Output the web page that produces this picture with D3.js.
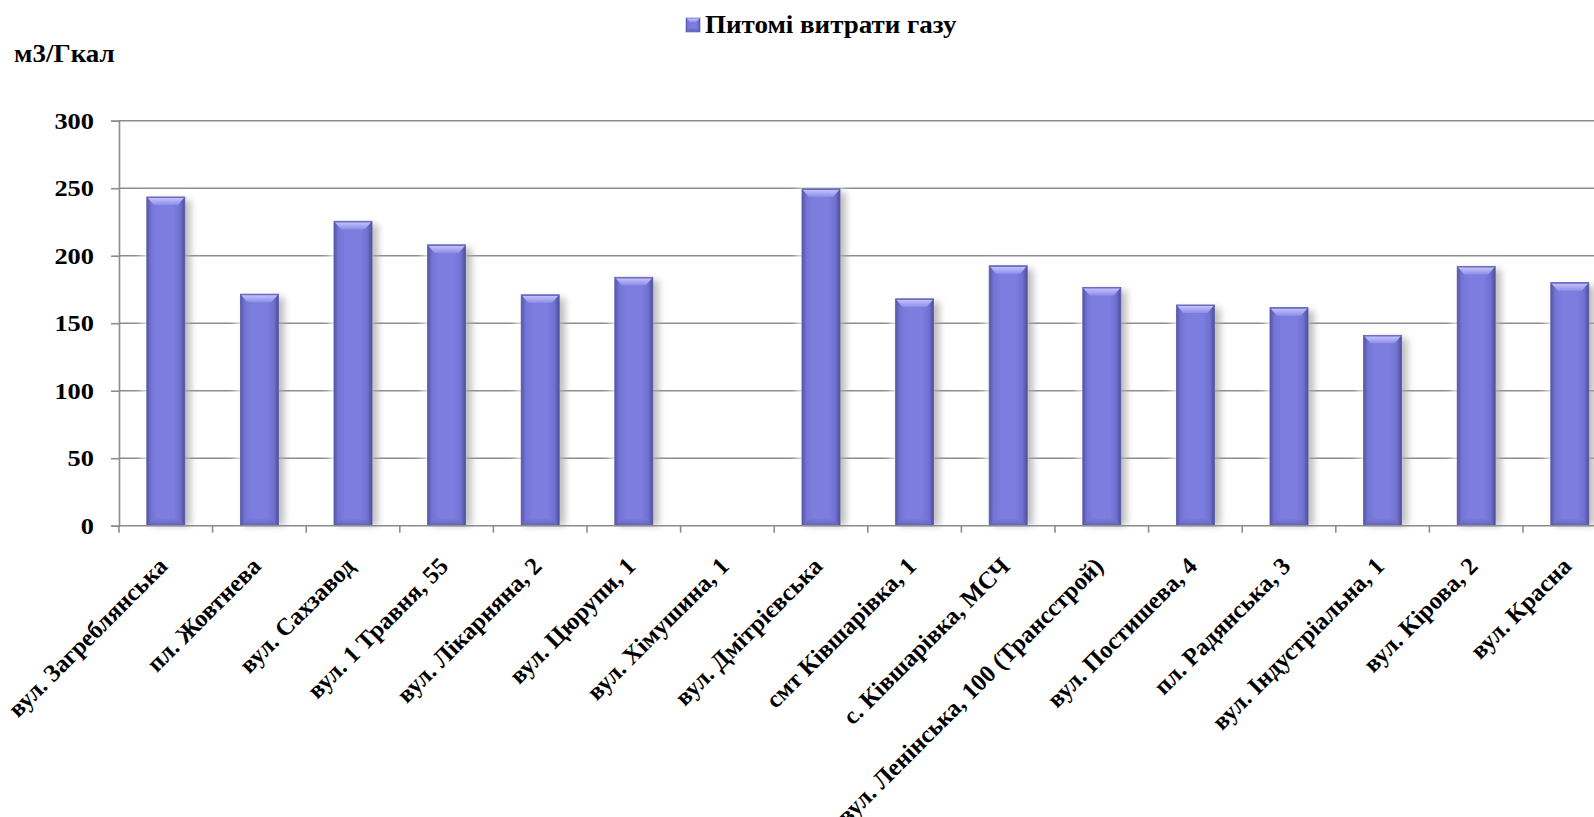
<!DOCTYPE html>
<html>
<head>
<meta charset="utf-8">
<script src="https://cdn.jsdelivr.net/npm/d3@7"></script>
<style>
  html, body { margin: 0; padding: 0; background: #fff; }
  svg { display: block; }
  text { font-family: "Liberation Serif", "Times New Roman", serif; font-weight: bold; fill: #000; }
</style>
</head>
<body>
<svg id="chart" width="1594" height="817"></svg>
<script>
const categories = [
  "вул. Загреблянська", "пл. Жовтнева", "вул. Сахзавод", "вул. 1 Травня, 55",
  "вул. Лікарняна, 2", "вул. Цюрупи, 1", "вул. Хімушина, 1", "вул. Дмітрієвська",
  "смт Ківшарівка, 1", "с. Ківшарівка, МСЧ", "вул. Ленінська, 100 (Трансстрой)",
  "вул. Постишева, 4", "пл. Радянська, 3", "вул. Індустріальна, 1", "вул. Кірова, 2", "вул. Красна"
];
const values = [243.5, 171.5, 225.5, 208, 171, 184, 0, 249.5, 168, 192.5, 176.5, 163.5, 161.5, 141, 192, 180];
const yTicks = [0, 50, 100, 150, 200, 250, 300];
const seriesName = "Питомі витрати газу";
const unitLabel = "м3/Гкал";

const svg = d3.select("#chart");
const plotLeft = 119, plotTop = 120.7, plotBottom = 525.7, step = 93.6;

const x = d3.scaleBand().domain(categories)
  .range([plotLeft, plotLeft + categories.length * step])
  .paddingInner(0.594).paddingOuter(0.297);
const y = d3.scaleLinear().domain([0, 300]).range([plotBottom, plotTop]);

const defs = svg.append("defs");
const gH = defs.append("linearGradient").attr("id", "barH").attr("x1", 0).attr("x2", 1).attr("y1", 0).attr("y2", 0);
[[0, "#5656a6"], [0.12, "#7474d6"], [0.3, "#7d7de0"], [0.7, "#7d7de0"], [0.88, "#7070d0"], [1, "#4e4e9a"]]
  .forEach(([o, c]) => gH.append("stop").attr("offset", o).attr("stop-color", c));
const gT = defs.append("linearGradient").attr("id", "barTop").attr("x1", 0).attr("x2", 0).attr("y1", 0).attr("y2", 1);
[[0, "#c6c6fb"], [1, "#8e8eea"]].forEach(([o, c]) => gT.append("stop").attr("offset", o).attr("stop-color", c));
const gB = defs.append("linearGradient").attr("id", "barBot").attr("x1", 0).attr("x2", 0).attr("y1", 0).attr("y2", 1);
[[0, "#7a7ad8"], [1, "#6262b8"]].forEach(([o, c]) => gB.append("stop").attr("offset", o).attr("stop-color", c));
const blur = defs.append("filter").attr("id", "shadow").attr("x", "-50%").attr("y", "-10%").attr("width", "200%").attr("height", "130%");
blur.append("feGaussianBlur").attr("stdDeviation", 3.5);
const glow = defs.append("filter").attr("id", "glow").attr("x", "-50%").attr("y", "-10%").attr("width", "200%").attr("height", "130%");
glow.append("feGaussianBlur").attr("stdDeviation", 4);

// gridlines
svg.append("g").selectAll("line").data(yTicks.filter(d => d > 0)).join("line")
  .attr("x1", plotLeft).attr("x2", 1594)
  .attr("y1", d => y(d)).attr("y2", d => y(d))
  .attr("stroke", "#8c8c8c").attr("stroke-width", 1.6);

// y axis
const yAxis = svg.append("g").attr("transform", `translate(${plotLeft},0)`)
  .call(d3.axisLeft(y).tickValues(yTicks).tickSize(8).tickPadding(0));
yAxis.select(".domain").attr("stroke", "#8c8c8c").attr("stroke-width", 1.6);
yAxis.selectAll(".tick line").attr("stroke", "#8c8c8c").attr("stroke-width", 1.6);
yAxis.selectAll(".tick text").attr("x", null)
  .attr("transform", "translate(-25,0) scale(1.1,1)")
  .attr("font-size", 24).attr("font-family", "Liberation Serif, serif")
  .attr("font-weight", "bold").attr("fill", "#000");

// bars
const bw = x.bandwidth();
const bars = svg.append("g").selectAll("g").data(values.map((v, i) => ({ c: categories[i], v })).filter(d => d.v > 0)).join("g");
bars.append("rect").attr("x", d => x(d.c) - 4).attr("y", d => y(d.v) - 2)
  .attr("width", bw + 8).attr("height", d => plotBottom - y(d.v) + 2)
  .attr("fill", "#fff").attr("opacity", 0.9).attr("filter", "url(#glow)");
bars.append("rect").attr("x", d => x(d.c) + 4).attr("y", d => y(d.v) + 3)
  .attr("width", bw + 2).attr("height", d => plotBottom - y(d.v) - 3)
  .attr("fill", "#000").attr("opacity", 0.25).attr("filter", "url(#shadow)");
bars.append("rect").attr("x", d => x(d.c)).attr("y", d => y(d.v))
  .attr("width", bw).attr("height", d => plotBottom - y(d.v))
  .attr("fill", "url(#barH)").attr("stroke", "#5a5aa8").attr("stroke-width", 0.8);
bars.append("polygon").attr("points", d => {
  const x0 = x(d.c), t = y(d.v), h = 8, ins = 7;
  return [[x0 + 0.5, t + 0.5], [x0 + bw - 0.5, t + 0.5], [x0 + bw - ins, t + h], [x0 + ins, t + h]].join(" ");
}).attr("fill", "url(#barTop)");
bars.append("line").attr("x1", d => x(d.c)).attr("x2", d => x(d.c) + bw)
  .attr("y1", d => y(d.v) + 0.5).attr("y2", d => y(d.v) + 0.5).attr("stroke", "#6a6ac4").attr("stroke-width", 1.2);
bars.append("polygon").attr("points", d => {
  const x0 = x(d.c), b = plotBottom, h = 7, ins = 7;
  return [[x0 + ins, b - h], [x0 + bw - ins, b - h], [x0 + bw - 0.5, b - 0.5], [x0 + 0.5, b - 0.5]].join(" ");
}).attr("fill", "url(#barBot)").attr("opacity", 0.8);

// x axis
svg.append("line").attr("x1", plotLeft).attr("x2", 1594).attr("y1", plotBottom).attr("y2", plotBottom)
  .attr("stroke", "#8c8c8c").attr("stroke-width", 1.6);
const bounds = d3.range(categories.length + 1).map(i => x.range()[0] + i * x.step());
svg.append("g").selectAll("line").data(bounds).join("line")
  .attr("x1", d => d).attr("x2", d => d).attr("y1", plotBottom).attr("y2", plotBottom + 7)
  .attr("stroke", "#8c8c8c").attr("stroke-width", 1.6);

// x labels
svg.append("g").selectAll("text").data(categories).join("text")
  .attr("transform", d => `translate(${x(d) + bw / 2 + 3},${plotBottom + 42}) rotate(-45)`)
  .attr("text-anchor", "end").attr("font-size", 24.5).text(d => d);

// unit label
svg.append("text").attr("transform", "translate(14,62) scale(1.04,1)").attr("font-size", 26).text(unitLabel);

// legend
const lg = svg.append("g").attr("transform", "translate(686,18)");
lg.append("rect").attr("width", 14).attr("height", 14).attr("fill", "url(#barH)").attr("stroke", "#5a5aa8").attr("stroke-width", 0.6);
lg.append("polygon").attr("points", "0.5,0.5 13.5,0.5 10,4 4,4").attr("fill", "url(#barTop)");
lg.append("polygon").attr("points", "4,10 10,10 13.5,13.5 0.5,13.5").attr("fill", "url(#barBot)");
lg.append("text").attr("transform", "translate(19,15) scale(1.08,1)").attr("font-size", 25).text(seriesName);
</script>
</body>
</html>
